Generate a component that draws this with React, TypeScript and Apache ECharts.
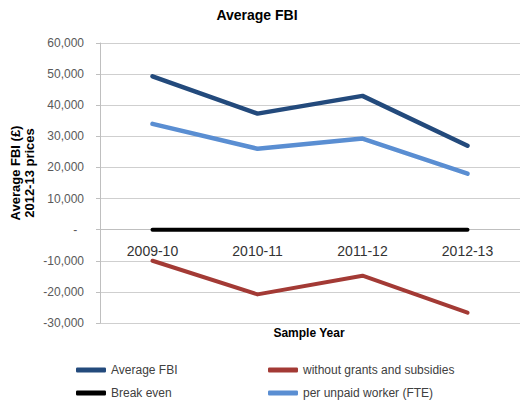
import React, { useEffect, useRef } from "react";
import * as echarts from "echarts";

// Farm business income by sample year, 2012-13 prices
const years = ["2009-10", "2010-11", "2011-12", "2012-13"];
const averageFbi = [49300, 37300, 43000, 27000];
const withoutGrants = [-10000, -20800, -14800, -26700];
const breakEven = [0, 0, 0, 0];
const perUnpaidWorker = [34000, 26000, 29300, 18000];

const Y_MIN = -30000;
const Y_MAX = 60000;

const FONT = "'Liberation Sans', Arial, sans-serif";
const DARK_BLUE = "#234A7C";
const RED = "#A33A35";
const BLACK = "#000000";
const LIGHT_BLUE = "#5A8ED2";

const GRID_TOP = 43;
const GRID_BOTTOM = 82;
const CHART_H = 405;

function yLabel(v: number): string {
  if (v === 0) return "-\u00a0\u00a0";
  return v.toLocaleString("en-GB");
}

export default function App() {
  const ref = useRef<HTMLDivElement>(null);

  useEffect(() => {
    if (!ref.current) return;
    const chart = echarts.init(ref.current, null, { renderer: "svg" });

    // category axis sits on the zero line of the value axis
    const plotH = CHART_H - GRID_TOP - GRID_BOTTOM;
    const zeroFromBottom = (plotH * (0 - Y_MIN)) / (Y_MAX - Y_MIN);

    const lineSeries = (name: string, data: number[], color: string, width: number) => ({
      name,
      type: "line",
      data,
      symbol: "none",
      lineStyle: { color, width, cap: "round", join: "round" },
      itemStyle: { color },
    });

    const legendItem = (name: string, left: number, top: number) => ({
      data: [name],
      left,
      top,
      icon: "roundRect",
      itemWidth: 30,
      itemHeight: 5,
      selectedMode: false,
      textStyle: { fontFamily: FONT, fontSize: 12, color: "#404040" },
    });

    chart.setOption({
      animation: false,
      backgroundColor: "#ffffff",
      grid: { left: 100, right: 0, top: GRID_TOP, bottom: GRID_BOTTOM, containLabel: false },
      xAxis: {
        type: "category",
        data: years,
        boundaryGap: true,
        offset: -zeroFromBottom,
        axisLine: { onZero: false, lineStyle: { color: "#BFBFBF", width: 1 } },
        axisTick: { show: false },
        axisLabel: { fontFamily: FONT, fontSize: 14, color: "#333333", margin: 14 },
        splitLine: { show: false },
      },
      yAxis: {
        type: "value",
        min: Y_MIN,
        max: Y_MAX,
        interval: 10000,
        axisLine: { show: true, lineStyle: { color: "#BFBFBF", width: 1 } },
        axisTick: { show: true, length: 4, lineStyle: { color: "#BFBFBF" } },
        axisLabel: { fontFamily: FONT, fontSize: 12, color: "#595959", margin: 16, formatter: yLabel },
        splitLine: { show: true, lineStyle: { color: "#CFCFCF", width: 1 } },
      },
      legend: [
        legendItem("Average FBI", 71, 359),
        legendItem("Break even", 71, 382),
        legendItem("without grants and subsidies", 263, 359),
        legendItem("per unpaid worker (FTE)", 263, 382),
      ],
      graphic: [
        {
          type: "text",
          x: 257,
          y: 15,
          style: {
            text: "Average FBI",
            font: `bold 14px ${FONT}`,
            fill: "#000000",
            textAlign: "center",
            textVerticalAlign: "middle",
          },
        },
        {
          type: "text",
          x: 309,
          y: 333,
          style: {
            text: "Sample Year",
            font: `bold 12px ${FONT}`,
            fill: "#000000",
            textAlign: "center",
            textVerticalAlign: "middle",
          },
        },
        {
          type: "text",
          x: 22,
          y: 173,
          rotation: Math.PI / 2,
          style: {
            text: "Average FBI (£)\n2012-13 prices",
            font: `bold 13px ${FONT}`,
            lineHeight: 14,
            fill: "#000000",
            textAlign: "center",
            textVerticalAlign: "middle",
          },
        },
      ],
      series: [
        lineSeries("Average FBI", averageFbi, DARK_BLUE, 4.5),
        lineSeries("without grants and subsidies", withoutGrants, RED, 4),
        lineSeries("Break even", breakEven, BLACK, 4),
        lineSeries("per unpaid worker (FTE)", perUnpaidWorker, LIGHT_BLUE, 4.5),
      ],
    });

    return () => chart.dispose();
  }, []);

  return (
    <div
      ref={ref}
      style={{ position: "absolute", left: 0, top: 0, width: 520, height: 405 }}
    />
  );
}
